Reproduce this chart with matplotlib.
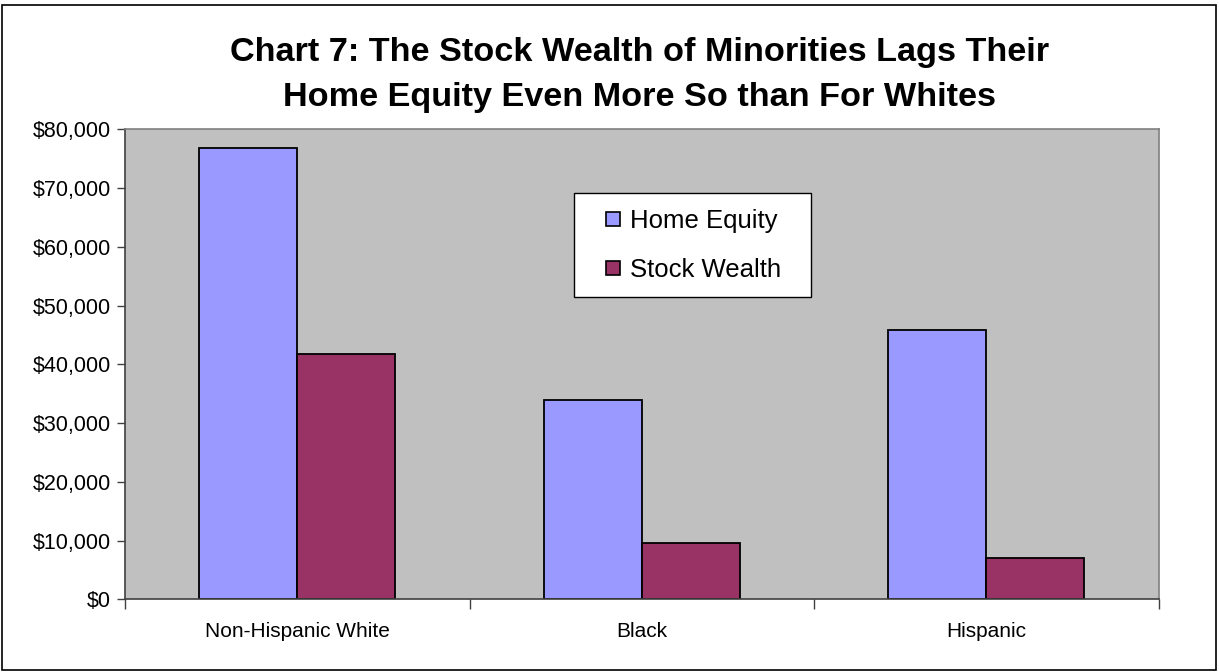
import matplotlib.pyplot as plt
import numpy as np
from matplotlib.patches import Rectangle
from matplotlib.lines import Line2D
from matplotlib.ticker import FuncFormatter

plt.rcParams['font.family'] = ['Liberation Sans', 'DejaVu Sans']

# data
groups = ['Non-Hispanic White', 'Black', 'Hispanic']
home_equity = [76900, 34000, 45800]
stock_wealth = [41800, 9500, 7100]
series = ['Home Equity', 'Stock Wealth']
colors = ['#9999FF', '#993366']

W, H = 1219, 672
fig = plt.figure(figsize=(W / 100, H / 100), dpi=100)
ax = fig.add_axes([0.1025, 0.1082, 0.848, 0.6994])
ax.set_facecolor('#C0C0C0')

x = np.arange(len(groups))
w = 0.2846
ax.bar(x - w / 2, home_equity, w, color=colors[0], edgecolor='black', linewidth=1.3)
ax.bar(x + w / 2, stock_wealth, w, color=colors[1], edgecolor='black', linewidth=1.3)

ax.set_xlim(-0.5, 2.5)
ax.set_ylim(0, 80000)
ax.set_yticks(np.arange(0, 80001, 10000))
ax.yaxis.set_major_formatter(FuncFormatter(lambda v, p: '${:,.0f}'.format(v)))
ax.tick_params(axis='y', labelsize=15.5, length=6, width=1, color='#404040', pad=4)

# category labels between boundary ticks
ax.set_xticks([-0.5, 0.5, 1.5, 2.5])
ax.set_xticklabels([])
ax.tick_params(axis='x', length=7, width=1, color='#404040')
for i, g in enumerate(groups):
    ax.text(i, -0.068, g, transform=ax.get_xaxis_transform(), ha='center', va='center', fontsize=15)

for side in ['top', 'right']:
    ax.spines[side].set_color('#808080')
    ax.spines[side].set_linewidth(1.2)
for side in ['left', 'bottom']:
    ax.spines[side].set_color('#404040')
    ax.spines[side].set_linewidth(1.2)

fig.text(0.525, 1 - 75 / H, 'Chart 7: The Stock Wealth of Minorities Lags Their\nHome Equity Even More So than For Whites',
         ha='center', va='center', fontsize=24.7, fontweight='bold', linespacing=1.55)

# legend: white box drawn separately, entries placed inside it
ax.add_patch(Rectangle((574 / W, 1 - 297 / H), (811 - 574) / W, (297 - 193) / H, transform=fig.transFigure,
                       facecolor='white', edgecolor='black', linewidth=1.0, zorder=3, clip_on=False))
handles = [Line2D([], [], marker='s', linestyle='none', markersize=9.5, markerfacecolor=c,
                  markeredgecolor='black', markeredgewidth=1.2) for c in colors]
leg = ax.legend(handles, series, loc='upper left', bbox_to_anchor=(588 / W, 1 - 209 / H),
                bbox_transform=fig.transFigure, fontsize=18.5, frameon=False,
                handlelength=1.95, handletextpad=-0.3, labelspacing=0.98,
                borderpad=0, borderaxespad=0)
leg.set_zorder(4)

fig.patches.append(Rectangle((0.0015, 0.003), 0.996, 0.99, transform=fig.transFigure,
                             fill=False, edgecolor='black', linewidth=1.2))

fig.savefig('out.png', dpi=100)
